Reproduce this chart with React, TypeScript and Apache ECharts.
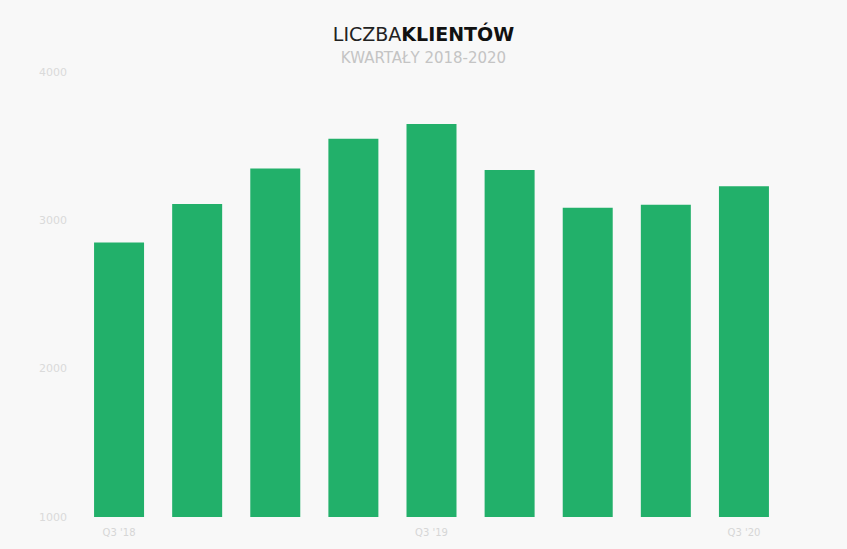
import React, { useEffect, useRef } from "react";
import * as echarts from "echarts";

const categories = ["Q3 '18", "Q4 '18", "Q1 '19", "Q2 '19", "Q3 '19", "Q4 '19", "Q1 '20", "Q2 '20", "Q3 '20"];
const shownLabels = ["Q3 '18", "Q3 '19", "Q3 '20"];
const clients = [2850, 3110, 3350, 3550, 3650, 3340, 3085, 3105, 3230];

export default function App() {
  const ref = useRef<HTMLDivElement>(null);
  useEffect(() => {
    const chart = echarts.init(ref.current!, null, { renderer: "svg" });
    chart.setOption({
      animation: false,
      backgroundColor: "#f8f8f8",
      title: {
        text: "{a|LICZBA}{b|KLIENTÓW}",
        subtext: "KWARTAŁY 2018-2020",
        left: "center",
        top: 19,
        itemGap: 7,
        textStyle: {
          rich: {
            a: { fontFamily: "DejaVu Sans", fontSize: 19, color: "#222", fontWeight: "normal" },
            b: { fontFamily: "DejaVu Sans", fontSize: 19, color: "#111", fontWeight: "bold" },
          },
        },
        subtextStyle: { fontFamily: "DejaVu Sans", fontSize: 15, color: "#c4c4c4" },
      },
      grid: { left: 80, right: 64, top: 72, bottom: 32, containLabel: false },
      xAxis: {
        type: "category",
        data: categories,
        axisLine: { show: false },
        axisTick: { show: false },
        axisLabel: {
          interval: 0,
          color: "#d6d6d6",
          fontFamily: "DejaVu Sans",
          fontSize: 10,
          margin: 10,
          formatter: (v: string) => (shownLabels.includes(v) ? v : ""),
        },
      },
      yAxis: {
        type: "value",
        min: 1000,
        max: 4000,
        interval: 1000,
        axisLine: { show: false },
        axisTick: { show: false },
        splitLine: { show: false },
        axisLabel: {
          color: "#dadada",
          fontFamily: "DejaVu Sans",
          fontSize: 11,
          margin: 13,
          formatter: (v: number) => String(v),
        },
      },
      series: [
        {
          type: "bar",
          data: clients,
          barWidth: "64%",
          itemStyle: { color: "#22b06a" },
        },
      ],
    });
    return () => chart.dispose();
  }, []);
  return <div ref={ref} style={{ width: 847, height: 549, position: "absolute", left: 0, top: 0 }} />;
}
